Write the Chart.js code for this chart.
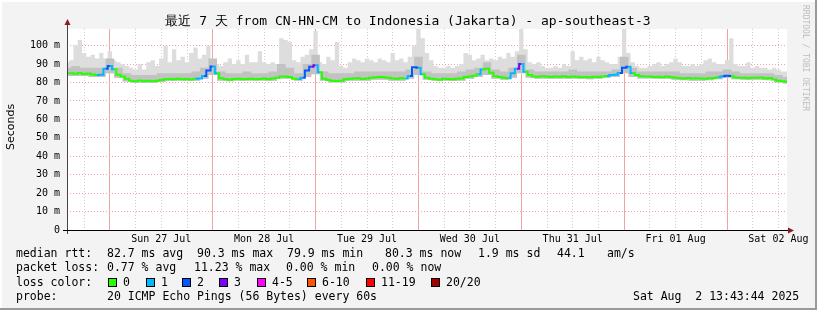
<!DOCTYPE html>
<html>
<head>
<meta charset="utf-8">
<script src="https://cdn.jsdelivr.net/npm/chart.js@4.4.1/dist/chart.umd.min.js"></script>
<style>
    html, body { margin: 0; padding: 0; background: #f3f3f3; }
    #wrap { width: 817px; height: 310px; }
</style>
</head>
<body>
<div id="wrap"><canvas id="smokeChart" width="817" height="310"></canvas></div>
<script>
// hours since Sat 26 Jul 14:00, one week window
const hourStart = 0;
const hourEnd = 168;

const dayLabels = ['Sun 27 Jul', 'Mon 28 Jul', 'Tue 29 Jul', 'Wed 30 Jul', 'Thu 31 Jul', 'Fri 01 Aug', 'Sat 02 Aug'];
const noonHours = [22, 46, 70, 94, 118, 142, 166];
const midnightHours = [10, 34, 58, 82, 106, 130, 154];
const gridHours = [4, 10, 16, 22, 28, 34, 40, 46, 52, 58, 64, 70, 76, 82, 88, 94, 100, 106, 112, 118, 124, 130, 136, 142, 148, 154, 160, 166];
const yGridValues = [0, 5, 10, 15, 20, 25, 30, 35, 40, 45, 50, 55, 60, 65, 70, 75, 80, 85, 90, 95, 100, 105];

// median rtt (ms), hourly
const medianRtt = [
    85.0, 85.0, 84.8, 85.2, 84.6, 84.9, 84.3, 84.0, 84.2, 87.5, 89.0, 87.2, 84.2, 83.3, 82.0, 80.9, 80.7, 81.1, 80.6, 80.9, 80.7, 81.0, 81.3, 81.8,
    81.9, 81.7, 82.0, 81.8, 81.9, 81.6, 82.0, 82.1, 83.5, 86.5, 88.6, 85.0, 82.3, 81.8, 81.5, 81.9, 82.0, 81.7, 81.9, 82.0, 81.8, 81.9, 82.1, 81.7,
    82.2, 82.6, 83.2, 83.3, 83.0, 82.0, 81.9, 82.5, 86.5, 88.5, 89.4, 85.5, 82.0, 81.3, 80.9, 80.8, 81.0, 81.7, 82.0, 82.1, 82.3, 81.9, 82.2, 82.5,
    82.8, 83.0, 82.9, 82.6, 82.2, 82.0, 82.3, 82.1, 83.5, 88.2, 88.0, 84.5, 82.5, 82.0, 81.8, 81.5, 82.0, 81.9, 81.7, 82.0, 82.2, 83.0, 83.3, 83.6,
    84.5, 87.0, 87.5, 85.3, 83.4, 83.0, 82.6, 82.3, 85.0, 87.5, 90.0, 85.8, 84.0, 83.3, 83.1, 83.4, 83.2, 83.0, 83.3, 83.1, 83.4, 83.0, 83.2, 83.1,
    82.9, 83.0, 82.8, 83.1, 83.0, 83.3, 83.5, 84.0, 84.2, 85.2, 88.0, 88.5, 85.2, 84.0, 83.4, 83.2, 83.3, 83.0, 83.1, 82.9, 83.2, 82.8, 82.5, 82.3,
    82.2, 82.4, 82.1, 82.3, 82.2, 82.0, 82.3, 82.4, 82.8, 83.4, 83.6, 83.5, 82.7, 82.5, 82.6, 82.3, 82.6, 82.5, 82.7, 82.2, 82.4, 81.6, 81.0, 80.7,
    80.4
];

// lost pings out of 20, hourly
const medianLoss = [
    0, 0, 0, 0, 0, 0, 0, 0, 1, 1, 2, 1, 0, 0, 0, 0, 0, 0, 0, 0, 0, 0, 0, 0,
    0, 0, 0, 0, 0, 0, 0, 1, 1, 2, 2, 1, 0, 0, 0, 0, 0, 0, 0, 0, 0, 0, 0, 0,
    0, 0, 0, 0, 0, 0, 0, 1, 2, 2, 3, 1, 0, 0, 0, 0, 0, 0, 0, 0, 0, 0, 0, 0,
    0, 0, 0, 0, 0, 0, 0, 0, 1, 2, 2, 1, 0, 0, 0, 0, 0, 0, 0, 0, 0, 0, 0, 0,
    0, 1, 0, 0, 0, 0, 0, 0, 1, 1, 3, 1, 0, 0, 0, 0, 0, 0, 0, 0, 0, 0, 0, 0,
    0, 0, 0, 0, 0, 0, 0, 1, 1, 1, 2, 2, 1, 0, 0, 0, 0, 0, 0, 0, 0, 0, 0, 0,
    0, 0, 0, 0, 0, 0, 0, 0, 0, 1, 2, 2, 0, 0, 0, 0, 0, 0, 0, 0, 0, 0, 0, 0,
    0
];

// highest ping per hour (light smoke top)
const smokeMax = [
    91, 92, 100, 103, 96, 94, 95, 93, 96, 93, 97, 92, 91, 90, 89, 88, 87, 90, 87, 91, 92, 89, 93, 100,
    91, 98, 92, 94, 91, 96, 99, 93, 95, 100, 92, 90, 89, 91, 93, 90, 92, 90, 95, 91, 91, 97, 91, 90,
    91, 90, 104, 103, 102, 92, 91, 94, 95, 98, 108, 91, 90, 94, 92, 102, 89, 88, 91, 93, 92, 91, 93, 92,
    91, 93, 92, 91, 96, 92, 93, 91, 94, 100, 110, 104, 96, 92, 89, 88, 88, 89, 88, 89, 90, 96, 95, 92,
    93, 95, 92, 93, 92, 94, 93, 96, 94, 97, 110, 98, 91, 90, 91, 89, 88, 88, 89, 88, 90, 89, 97, 92,
    94, 92, 93, 91, 94, 92, 91, 90, 90, 94, 110, 96, 91, 89, 88, 88, 89, 90, 91, 89, 90, 91, 93, 91,
    89, 89, 90, 89, 90, 92, 93, 91, 90, 90, 92, 104, 90, 89, 89, 91, 88, 89, 88, 88, 87, 88, 87, 86,
    86
];

// dense smoke top and smoke bottom, every 2 hours
const smokeUpper = [
    88, 89, 88, 88, 88, 93, 88, 85, 84, 84, 84, 85,
    85, 85, 85, 86, 88, 93, 86, 85, 85, 86, 85, 85,
    86, 90, 88, 85, 90, 95, 86, 85, 85, 85, 86, 86,
    86, 86, 86, 86, 87, 94, 86, 85, 85, 85, 86, 87,
    88, 91, 87, 86, 88, 95, 87, 86, 86, 86, 86, 87,
    86, 86, 86, 86, 87, 94, 88, 86, 86, 86, 86, 86,
    85, 85, 85, 86, 86, 87, 86, 85, 85, 85, 85, 84,
    83
];
const smokeMin = [
    83.5, 83.5, 83.5, 83, 83, 85, 82.5, 80.5, 79.8, 79.8, 79.8, 80.2,
    80.8, 81, 80.8, 81, 82, 84, 81, 80.6, 81, 81, 81, 81,
    81, 82, 82, 81, 83, 84.5, 81, 80, 80, 81, 81, 81,
    81.5, 81.5, 81, 81, 82, 84, 81.5, 81, 81, 80.8, 81, 82,
    83, 84, 82, 81.5, 82.5, 85, 82.5, 82, 82, 82, 82, 82,
    82, 81.8, 82, 82.5, 83, 85, 83, 82.2, 82.2, 82, 82, 81.5,
    81.2, 81, 81, 81.2, 81.8, 82.5, 81.8, 81.5, 81.5, 81.5, 81.2, 80,
    79.5
];

const lossColors = ['#26ff00', '#00b8ff', '#0059ff', '#7e00ff', '#ff00ff', '#ff5500', '#ff0000', '#a10000'];
const lossLabels = ['0', '1', '2', '3', '4-5', '6-10', '11-19', '20/20'];

const hourly = arr => arr.map((v, i) => ({ x: hourStart + i, y: v }));
const twoHourly = arr => arr.map((v, i) => ({ x: hourStart + i * 2, y: v }));

const mono = 'DejaVu Sans Mono';

const rrdDecor = {
    id: 'rrdDecor',
    beforeDraw(chart) {
        const c = chart.ctx;
        const a = chart.chartArea;
        c.save();
        c.fillStyle = '#f3f3f3';
        c.fillRect(0, 0, chart.width, chart.height);
        c.fillStyle = '#ffffff';
        c.fillRect(a.left, a.top, a.right - a.left, a.bottom - a.top);
        // frame
        c.fillStyle = '#ffffff';
        c.fillRect(0, 0, chart.width, 2);
        c.fillRect(0, 0, 2, chart.height);
        c.fillStyle = '#9a9a9a';
        c.fillRect(0, chart.height - 2, chart.width, 2);
        c.fillRect(chart.width - 2, 0, 2, chart.height);
        c.restore();
    },
    afterDraw(chart) {
        const c = chart.ctx;
        const a = chart.chartArea;
        c.save();

        // axes
        c.strokeStyle = '#444';
        c.lineWidth = 1;
        c.beginPath();
        c.moveTo(a.left + 0.5, a.bottom + 4);
        c.lineTo(a.left + 0.5, 24);
        c.stroke();
        c.strokeStyle = '#000';
        c.beginPath();
        c.moveTo(a.left - 4, a.bottom + 0.5);
        c.lineTo(a.right + 2, a.bottom + 0.5);
        c.stroke();
        c.fillStyle = '#8b1a1a';
        c.beginPath();
        c.moveTo(a.left + 0.5, 19);
        c.lineTo(a.left - 2.5, 25);
        c.lineTo(a.left + 3.5, 25);
        c.closePath();
        c.fill();
        c.beginPath();
        c.moveTo(a.right + 7, a.bottom + 0.5);
        c.lineTo(a.right + 1, a.bottom - 2.5);
        c.lineTo(a.right + 1, a.bottom + 3.5);
        c.closePath();
        c.fill();

        // title
        c.fillStyle = '#000';
        c.font = '13px ' + mono;
        c.textAlign = 'center';
        c.textBaseline = 'middle';
        c.fillText('最近 7 天 from CN-HN-CM to Indonesia (Jakarta) - ap-southeast-3', 408, 22);

        // y title
        c.save();
        c.translate(11, 127);
        c.rotate(-Math.PI / 2);
        c.font = '11px "DejaVu Sans"';
        c.fillText('Seconds', 0, 0);
        c.restore();

        // watermark
        c.save();
        c.translate(805, 5);
        c.rotate(Math.PI / 2);
        c.font = '8px ' + mono;
        c.fillStyle = '#bdbdbd';
        c.textAlign = 'left';
        c.fillText('RRDTOOL / TOBI OETIKER', 0, 0);
        c.restore();

        // legend
        c.font = '11.5px ' + mono;
        c.textAlign = 'left';
        c.fillStyle = '#000';
        const row1 = [['median rtt:', 16], ['82.7 ms avg', 107], ['90.3 ms max', 197], ['79.9 ms min', 287], ['80.3 ms now', 385], ['1.9 ms sd', 478], ['44.1', 557], ['am/s', 607]];
        const row2 = [['packet loss:', 16], ['0.77 % avg', 107], ['11.23 % max', 194], ['0.00 % min', 286], ['0.00 % now', 372]];
        row1.forEach(([t, x]) => c.fillText(t, x, 254));
        row2.forEach(([t, x]) => c.fillText(t, x, 268.5));
        c.fillText('loss color:', 16, 283);
        const boxX = [108, 146, 182, 219, 257, 307, 366, 431];
        lossLabels.forEach((lbl, i) => {
            c.fillStyle = lossColors[i];
            c.fillRect(boxX[i], 278, 9, 9);
            c.strokeStyle = '#000';
            c.strokeRect(boxX[i] + 0.5, 278.5, 8, 8);
            c.fillStyle = '#000';
            c.fillText(lbl, boxX[i] + 15, 283);
        });
        c.fillText('probe:', 16, 297.5);
        c.fillText('20 ICMP Echo Pings (56 Bytes) every 60s', 107, 297.5);
        c.fillText('Sat Aug  2 13:43:44 2025', 633, 297.5);
        c.restore();
    }
};

new Chart(document.getElementById('smokeChart'), {
    type: 'line',
    data: {
        datasets: [
            {
                label: 'median',
                data: hourly(medianRtt),
                borderColor: lossColors[0],
                borderWidth: 2,
                stepped: 'middle',
                fill: false,
                segment: {
                    borderColor: ctx => lossColors[medianLoss[ctx.p1DataIndex]]
                }
            },
            {
                label: 'smoke upper',
                data: twoHourly(smokeUpper),
                borderWidth: 0,
                backgroundColor: '#c2c2c2',
                stepped: 'middle',
                fill: 2
            },
            {
                label: 'smoke min',
                data: twoHourly(smokeMin),
                borderWidth: 0,
                stepped: 'middle',
                fill: false
            },
            {
                label: 'smoke max',
                data: hourly(smokeMax),
                borderWidth: 0,
                backgroundColor: '#dddddd',
                stepped: 'middle',
                fill: 2
            }
        ]
    },
    options: {
        responsive: false,
        animation: false,
        layout: {
            padding: { top: 29, right: 30, left: 0, bottom: 0 }
        },
        elements: {
            point: { radius: 0 }
        },
        plugins: {
            legend: { display: false },
            tooltip: { enabled: false }
        },
        scales: {
            x: {
                type: 'linear',
                min: hourStart,
                max: hourEnd,
                afterFit: scale => { scale.height = 80; },
                afterBuildTicks: scale => { scale.ticks = gridHours.map(v => ({ value: v })); },
                grid: {
                    color: ctx => midnightHours.includes(ctx.tick.value) ? '#f2a4a4' : '#cfcfcf',
                    drawTicks: false
                },
                border: {
                    display: false,
                    dash: ctx => midnightHours.includes(ctx.tick.value) ? [] : [1, 2]
                },
                ticks: {
                    autoSkip: false,
                    maxRotation: 0,
                    padding: 3,
                    color: '#000',
                    font: { family: mono, size: 10 },
                    callback: v => {
                        const i = noonHours.indexOf(v);
                        return i >= 0 ? dayLabels[i] : '';
                    }
                }
            },
            y: {
                min: 0,
                max: 109,
                afterFit: scale => { scale.width = 67; },
                afterBuildTicks: scale => { scale.ticks = yGridValues.map(v => ({ value: v })); },
                grid: {
                    color: ctx => ctx.tick.value % 10 === 0 ? '#f2a4a4' : '#cfcfcf',
                    drawTicks: false
                },
                border: {
                    display: false,
                    dash: [1, 2]
                },
                ticks: {
                    padding: 7,
                    color: '#000',
                    font: { family: mono, size: 10 },
                    callback: v => v % 10 !== 0 ? '' : (v === 0 ? '0' : v + ' m')
                }
            }
        }
    },
    plugins: [rrdDecor]
});
</script>
</body>
</html>
